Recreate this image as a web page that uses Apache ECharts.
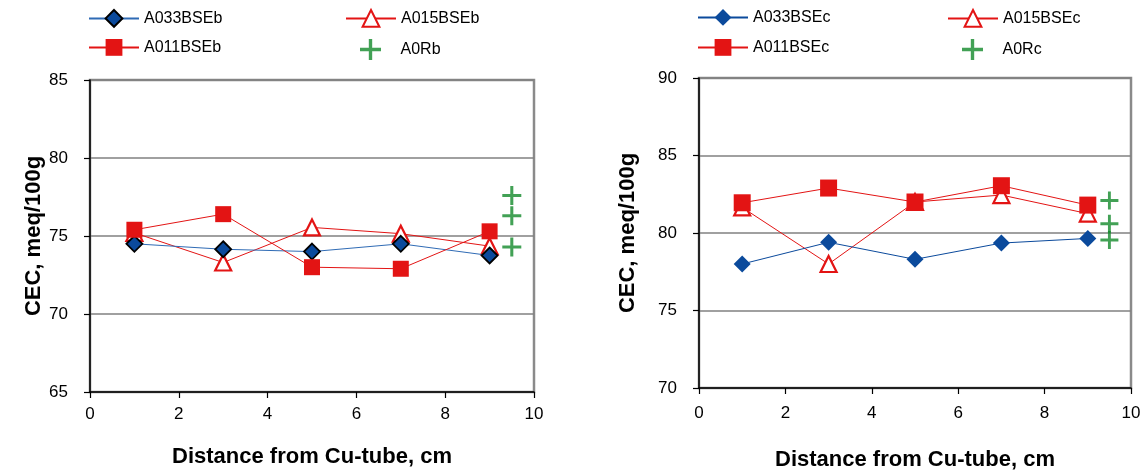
<!DOCTYPE html>
<html>
<head>
<meta charset="utf-8">
<script src="https://cdn.jsdelivr.net/npm/echarts@6/dist/echarts.min.js"></script>
<style>
html,body{margin:0;padding:0;background:#fff;}
#c{width:1146px;height:470px;}
</style>
</head>
<body>
<div id="c"></div>
<script>
// ---- data ----
const xDist = [1, 3, 5, 7, 9];
const xRef = [9.5, 9.5, 9.5];

const A033BSEb = [74.5, 74.15, 74.0, 74.5, 73.75];
const A015BSEb = [75.2, 73.3, 75.55, 75.15, 74.35];
const A011BSEb = [75.4, 76.4, 73.0, 72.9, 75.3];
const A0Rb = [77.6, 76.3, 74.3];

const A033BSEc = [78.0, 79.4, 78.3, 79.35, 79.65];
const A015BSEc = [81.65, 78.0, 82.0, 82.45, 81.25];
const A011BSEc = [81.95, 82.9, 82.0, 83.05, 81.8];
const A0Rc = [82.1, 80.6, 79.55];

const xTicks = [0, 2, 4, 6, 8, 10];
const yTicksB = [65, 70, 75, 80, 85];
const yTicksC = [70, 75, 80, 85, 90];

const xTitle = 'Distance from Cu-tube, cm';
const yTitle = 'CEC, meq/100g';

// ---- styles ----
const FONT = '"Liberation Sans", Arial, sans-serif';
const plus = 'path://M4.2,0 H5.8 V4.2 H10 V5.8 H5.8 V10 H4.2 V5.8 H0 V4.2 H4.2 Z';
const RED = '#e31414';
const GREEN = '#138a2a';

function pairs(xs, ys) { return ys.map((y, i) => [xs[i], y]); }

function xAxisCfg(gi, gap, margin) {
  return {
    type: 'value', gridIndex: gi, min: xTicks[0], max: xTicks[xTicks.length - 1], interval: 2,
    name: xTitle, nameLocation: 'middle', nameGap: gap,
    nameTextStyle: { fontFamily: FONT, fontSize: 22, fontWeight: 'bold', color: '#000' },
    axisLine: { show: true, onZero: false, lineStyle: { color: '#000', width: 1.5 } },
    axisTick: { show: true, inside: false, length: 6, lineStyle: { color: '#000', width: 1.2 } },
    axisLabel: { fontFamily: FONT, fontSize: 17, color: '#000', margin: margin },
    splitLine: { show: false }
  };
}
function yAxisCfg(gi, ticks, gap) {
  return {
    type: 'value', gridIndex: gi, min: ticks[0], max: ticks[ticks.length - 1], interval: 5,
    name: yTitle, nameLocation: 'middle', nameGap: gap, nameRotate: 90,
    nameTextStyle: { fontFamily: FONT, fontSize: 22, fontWeight: 'bold', color: '#000' },
    axisLine: { show: true, onZero: false, lineStyle: { color: '#000', width: 1.5 } },
    axisTick: { show: true, inside: false, length: 6, lineStyle: { color: '#000', width: 1.2 } },
    axisLabel: { fontFamily: FONT, fontSize: 17, color: '#000', margin: 22 },
    splitLine: { show: true, lineStyle: { color: '#808080', width: 1.5 } }
  };
}

function seriesSet(gi, names, d033, d015, d011, dR, diamondBorder, blueLine, sz) {
  return [
    {
      name: names[1], type: 'line', xAxisIndex: gi, yAxisIndex: gi, z: 2,
      data: pairs(xDist, d015), symbol: 'triangle', symbolSize: sz.tri,
      lineStyle: { color: RED, width: 1 },
      itemStyle: { color: '#fff', borderColor: RED, borderWidth: 2.2 }
    },
    {
      name: names[0], type: 'line', xAxisIndex: gi, yAxisIndex: gi, z: 3,
      data: pairs(xDist, d033), symbol: 'diamond', symbolSize: sz.dia,
      lineStyle: { color: blueLine, width: 1 },
      itemStyle: diamondBorder ? { color: '#0b4a9c', borderColor: '#000', borderWidth: 1.8 }
                               : { color: '#0b4a9c', borderWidth: 0 }
    },
    {
      name: names[2], type: 'line', xAxisIndex: gi, yAxisIndex: gi, z: 4,
      data: pairs(xDist, d011), symbol: 'rect', symbolSize: sz.sq,
      lineStyle: { color: RED, width: 1 },
      itemStyle: { color: RED, borderWidth: 0 }
    },
    {
      name: names[3], type: 'scatter', xAxisIndex: gi, yAxisIndex: gi, z: 5,
      data: pairs(xRef, dR), symbol: plus, symbolSize: sz.plus,
      itemStyle: { color: GREEN }
    }
  ];
}

function legendCfg(name, left, top) {
  return {
    data: [name], left: left, top: top, orient: 'horizontal',
    itemWidth: 50, itemHeight: 21, padding: 0,
    textStyle: { fontFamily: FONT, fontSize: 16, color: '#000' },
    selectedMode: false
  };
}

const namesB = ['A033BSEb', 'A015BSEb', 'A011BSEb', 'A0Rb'];
const namesC = ['A033BSEc', 'A015BSEc', 'A011BSEc', 'A0Rc'];

const option = {
  animation: false,
  backgroundColor: '#fff',
  grid: [
    { left: 90, right: 612, top: 80, bottom: 78, show: true, borderColor: '#8a8a8a', borderWidth: 2.5, backgroundColor: 'transparent', outerBoundsMode: 'none' },
    { left: 699, right: 15, top: 78, bottom: 82, show: true, borderColor: '#8a8a8a', borderWidth: 2.5, backgroundColor: 'transparent', outerBoundsMode: 'none' }
  ],
  legend: [
    legendCfg(namesB[0], 88, 9), legendCfg(namesB[1], 345, 9),
    legendCfg(namesB[2], 88, 39), legendCfg(namesB[3], 360, 39),
    legendCfg(namesC[0], 697, 9), legendCfg(namesC[1], 947, 9),
    legendCfg(namesC[2], 697, 39), legendCfg(namesC[3], 962, 39)
  ],
  xAxis: [xAxisCfg(0, 54, 14), xAxisCfg(1, 61, 17)],
  yAxis: [yAxisCfg(0, yTicksB, 44), yAxisCfg(1, yTicksC, 60)],
  series: [].concat(
    seriesSet(0, namesB, A033BSEb, A015BSEb, A011BSEb, A0Rb, true, '#2f6bb5', { tri: 16, dia: 16, sq: 16, plus: 19 }),
    seriesSet(1, namesC, A033BSEc, A015BSEc, A011BSEc, A0Rc, false, '#0b4a9c', { tri: 16, dia: 17, sq: 17, plus: 18 })
  )
};

const chart = echarts.init(document.getElementById('c'), null, { renderer: 'canvas' });
chart.setOption(option);
</script>
</body>
</html>
